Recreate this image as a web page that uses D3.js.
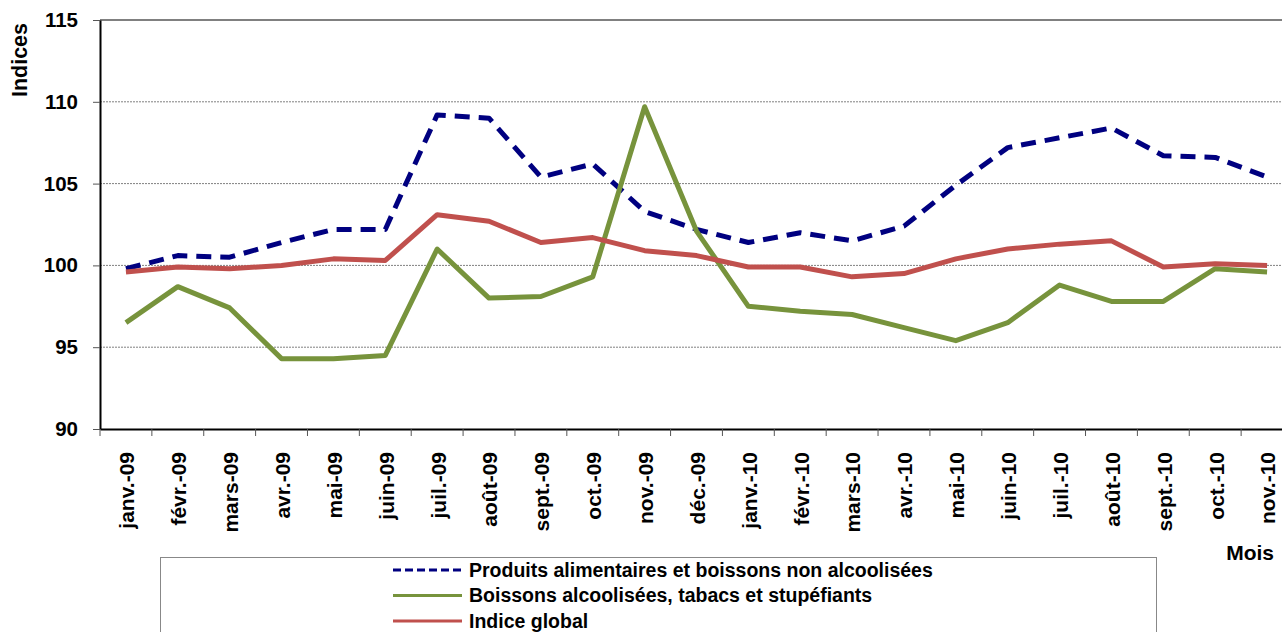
<!DOCTYPE html>
<html>
<head>
<meta charset="utf-8">
<script src="https://cdn.jsdelivr.net/npm/d3@7"></script>
<style>
  body { margin: 0; background: #fff; }
  svg { display: block; font-family: "Liberation Sans", Arial, sans-serif; font-weight: bold; }
</style>
</head>
<body>
<div id="chart"></div>
<script>
// Months on the x axis
var months = ["janv.-09", "févr.-09", "mars-09", "avr.-09", "mai-09", "juin-09", "juil.-09", "août-09",
  "sept.-09", "oct.-09", "nov.-09", "déc.-09", "janv.-10", "févr.-10", "mars-10", "avr.-10", "mai-10",
  "juin-10", "juil.-10", "août-10", "sept.-10", "oct.-10", "nov.-10"];

// Series values
var alimentaires = [99.8, 100.6, 100.5, 101.4, 102.2, 102.2, 109.2, 109.0, 105.4, 106.2, 103.3, 102.2,
  101.4, 102.0, 101.5, 102.4, 104.9, 107.2, 107.8, 108.4, 106.7, 106.6, 105.4];
var alcool = [96.5, 98.7, 97.4, 94.3, 94.3, 94.5, 101.0, 98.0, 98.1, 99.3, 109.7, 102.1,
  97.5, 97.2, 97.0, 96.2, 95.4, 96.5, 98.8, 97.8, 97.8, 99.8, 99.6];
var global = [99.6, 99.9, 99.8, 100.0, 100.4, 100.3, 103.1, 102.7, 101.4, 101.7, 100.9, 100.6,
  99.9, 99.9, 99.3, 99.5, 100.4, 101.0, 101.3, 101.5, 99.9, 100.1, 100.0];

var yTicks = [90, 95, 100, 105, 110, 115];

var seriesNames = ["Produits alimentaires et boissons non alcoolisées",
  "Boissons alcoolisées, tabacs et stupéfiants", "Indice global"];
var seriesColors = ["#000080", "#77933C", "#C0504D"];

document.addEventListener('DOMContentLoaded', function() {
    var width = 1282, height = 632;
    var left = 100, top = 20, bottom = 429, right = 1293;

    var svg = d3.select("#chart").append("svg")
        .attr("width", width)
        .attr("height", height);

    var x = d3.scaleBand().domain(months).range([left, right]);
    var y = d3.scaleLinear().domain([90, 115]).range([bottom, top]);

    // Horizontal gridlines
    svg.append("g")
        .selectAll("line")
        .data(yTicks.slice(1))
        .enter().append("line")
        .attr("x1", left).attr("x2", right)
        .attr("y1", function(d) { return y(d); })
        .attr("y2", function(d) { return y(d); })
        .attr("stroke", "#808080")
        .attr("stroke-width", function(d) { return d === 115 ? 2 : 1; })
        .attr("stroke-dasharray", function(d) { return d === 115 ? null : "2,1"; });

    // Y axis
    var yAxis = svg.append("g")
        .attr("transform", "translate(" + left + ",0)")
        .call(d3.axisLeft(y).tickValues(yTicks).tickSize(7).tickPadding(15).tickSizeOuter(0));
    yAxis.select(".domain").attr("stroke", "#000").attr("stroke-width", 2);
    yAxis.selectAll(".tick line").attr("stroke", "#555");
    yAxis.selectAll("text").attr("font-size", 20.5).attr("fill", "#000");

    // X axis
    var xAxis = svg.append("g")
        .attr("transform", "translate(0," + bottom + ")")
        .call(d3.axisBottom(x).tickSize(0));
    xAxis.select(".domain").attr("stroke", "#000").attr("stroke-width", 2);
    xAxis.selectAll(".tick text")
        .attr("font-size", 21)
        .attr("fill", "#000")
        .attr("text-anchor", "end")
        .attr("transform", "translate(1,23) rotate(-90)")
        .attr("x", 0)
        .attr("y", 0)
        .attr("dy", "0.35em");

    // Tick marks between categories
    svg.append("g")
        .selectAll("line")
        .data(months)
        .enter().append("line")
        .attr("x1", function(d) { return x(d); })
        .attr("x2", function(d) { return x(d); })
        .attr("y1", bottom).attr("y2", bottom + 7)
        .attr("stroke", "#555");

    // Lines
    var line = d3.line()
        .x(function(d, i) { return x(months[i]) + x.bandwidth() / 2; })
        .y(function(d) { return y(d); });

    var allSeries = [alimentaires, alcool, global];
    allSeries.forEach(function(values, k) {
        svg.append("path")
            .datum(values)
            .attr("fill", "none")
            .attr("stroke", seriesColors[k])
            .attr("stroke-width", 5)
            .attr("stroke-linejoin", "round")
            .attr("stroke-dasharray", k === 0 ? "15,9" : null)
            .attr("d", line);
    });

    // Axis titles
    svg.append("text")
        .attr("transform", "translate(27,60) rotate(-90)")
        .attr("text-anchor", "middle")
        .attr("font-size", 21.5)
        .text("Indices");

    svg.append("text")
        .attr("x", 1274).attr("y", 560)
        .attr("text-anchor", "end")
        .attr("font-size", 21)
        .text("Mois");

    // Legend
    svg.append("rect")
        .attr("x", 160.5).attr("y", 557.5)
        .attr("width", 996).attr("height", 100)
        .attr("fill", "#fff")
        .attr("stroke", "#888");

    var legend = svg.append("g");
    seriesNames.forEach(function(name, k) {
        var ly = 570 + k * 25.5;
        legend.append("line")
            .attr("x1", 393).attr("x2", 462)
            .attr("y1", ly).attr("y2", ly)
            .attr("stroke", seriesColors[k])
            .attr("stroke-width", 3)
            .attr("stroke-dasharray", k === 0 ? "8,4" : null);
        legend.append("text")
            .attr("x", 469).attr("y", ly)
            .attr("dy", "0.35em")
            .attr("font-size", 19.5)
            .text(name);
    });
});
</script>
</body>
</html>
